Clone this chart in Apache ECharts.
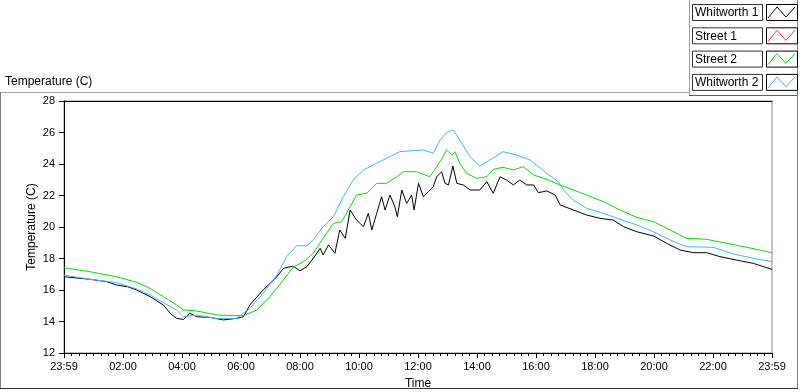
<!DOCTYPE html>
<html>
<head>
<meta charset="utf-8">
<script src="https://cdn.jsdelivr.net/npm/echarts@6/dist/echarts.min.js"></script>
<style>
  html, body { margin: 0; padding: 0; background: #fff; }
  #main { width: 800px; height: 392px; }
</style>
</head>
<body>
<div id="main"></div>
<script>
// minutes after 23:59 -> temperature (C)
var seriesNames = ["Whitworth 1", "Street 1", "Street 2", "Whitworth 2"];
var seriesColors = ["#000000", "#ff3030", "#00e000", "#40b8f8"];

var w1Times = [0,30,53,87,107,130,148,175,202,216,229,243,256,270,297,324,351,365,378,405,433,446,466,480,494,507,521,527,538,551,561,572,582,595,609,619,626,636,646,653,663,673,678,687,697,707,712,721,731,741,751,758,768,775,782,791,799,812,826,846,860,873,887,900,914,927,941,955,965,982,999,1009,1036,1063,1090,1117,1138,1165,1199,1226,1253,1280,1307,1334,1368,1402,1440];
var w1Temps = [16.84,16.75,16.68,16.53,16.32,16.2,16.00,15.58,15.05,14.52,14.20,14.13,14.52,14.30,14.26,14.10,14.20,14.30,15.05,16.00,16.84,17.37,17.52,17.22,17.48,18.01,18.65,18.22,18.86,18.33,19.81,19.28,21.08,20.44,20.02,20.87,19.81,20.87,21.92,21.08,22.03,21.29,20.65,22.35,21.50,22.03,21.08,22.77,21.92,22.24,22.56,23.19,23.51,22.77,22.67,23.87,22.77,22.67,22.35,22.35,22.88,22.14,23.19,22.98,22.67,22.98,22.67,22.67,22.18,22.29,22.03,21.40,21.08,20.76,20.55,20.44,20.02,19.70,19.43,18.96,18.54,18.37,18.37,18.12,17.90,17.69,17.31];

var s1Times = [];
var s1Temps = [];

var s2Times = [0,53,107,148,175,202,229,243,270,311,365,392,419,446,466,487,507,527,548,565,582,595,616,636,656,677,690,717,744,758,771,778,789,795,805,819,839,860,873,893,914,934,955,982,1009,1036,1063,1097,1131,1165,1199,1233,1266,1307,1348,1389,1440];
var s2Temps = [17.41,17.16,16.84,16.49,16.10,15.58,15.05,14.73,14.67,14.41,14.37,14.73,15.58,16.62,17.45,17.80,18.33,19.28,20.23,20.34,21.29,22.03,22.14,22.77,22.77,23.19,23.51,23.51,23.19,23.83,24.46,24.89,24.57,24.78,24.04,23.41,23.09,23.19,23.66,23.79,23.62,23.83,23.30,23.03,22.67,22.35,22.03,21.61,21.08,20.61,20.34,19.81,19.28,19.22,18.96,18.71,18.37];

var w2Times = [0,53,107,148,175,202,229,243,270,311,351,378,405,433,453,473,494,507,527,548,568,588,609,629,656,683,710,731,751,765,778,792,805,826,846,866,893,921,948,982,1005,1016,1036,1063,1097,1131,1165,1199,1233,1266,1321,1361,1402,1440];
var w2Temps = [16.95,16.68,16.47,16.06,15.68,15.19,14.73,14.30,14.41,14.18,14.20,14.83,15.79,16.95,18.12,18.81,18.81,19.17,20.02,20.65,21.92,22.98,23.62,23.94,24.36,24.78,24.85,24.89,24.68,25.52,25.99,26.16,25.52,24.46,23.87,24.25,24.78,24.57,24.25,23.41,22.88,22.35,21.71,21.19,20.87,20.49,20.13,19.70,19.17,18.75,18.71,18.29,18.01,17.80];

var allTimes = [w1Times, s1Times, s2Times, w2Times];
var allTemps = [w1Temps, s1Temps, s2Temps, w2Temps];

function pad(n) { return (n < 10 ? "0" : "") + n; }

var chart = echarts.init(document.getElementById("main"));
var font = "Liberation Sans";

var series = seriesNames.map(function (name, k) {
  return {
    name: name,
    type: "line",
    showSymbol: false,
    animation: false,
    lineStyle: { color: seriesColors[k], width: 1 },
    itemStyle: { color: seriesColors[k] },
    data: allTimes[k].map(function (t, i) { return [t, allTemps[k][i]]; })
  };
});

// legend boxes drawn LabVIEW style
var legendGraphics = [];
seriesNames.forEach(function (name, k) {
  var top = 4 + k * 23.3;
  legendGraphics.push({
    type: "rect", shape: { x: 692.5, y: top + 0.5, width: 70, height: 16 },
    style: { fill: "#fff", stroke: "#333", lineWidth: 1 }
  });
  legendGraphics.push({
    type: "text", x: 695, y: top + 9,
    style: { text: name, font: "12px " + font, fill: "#000", verticalAlign: "middle" }
  });
  legendGraphics.push({
    type: "rect", shape: { x: 766.5, y: top + 0.5, width: 31, height: 16 },
    style: { fill: "#fff", stroke: "#000", lineWidth: 1 }
  });
  legendGraphics.push({
    type: "polyline",
    shape: { points: [[768, top + 14], [777, top + 3], [786, top + 13], [795, top + 3]] },
    style: { stroke: seriesColors[k], lineWidth: 1, fill: null }
  });
});

var frame = [
  { type: "line", shape: { x1: 0, y1: 92.5, x2: 690, y2: 92.5 }, style: { stroke: "#a0a0a0", lineWidth: 1 } },
  { type: "line", shape: { x1: 689.5, y1: 0, x2: 689.5, y2: 95 }, style: { stroke: "#a0a0a0", lineWidth: 1 } },
  { type: "line", shape: { x1: 689, y1: 95.5, x2: 798, y2: 95.5 }, style: { stroke: "#606060", lineWidth: 1 } },
  { type: "line", shape: { x1: 0.5, y1: 92, x2: 0.5, y2: 388 }, style: { stroke: "#808080", lineWidth: 1 } },
  { type: "line", shape: { x1: 797.5, y1: 0, x2: 797.5, y2: 388 }, style: { stroke: "#808080", lineWidth: 1 } },
  { type: "line", shape: { x1: 0, y1: 388.5, x2: 798, y2: 388.5 }, style: { stroke: "#303030", lineWidth: 1 } },
  { type: "text", x: 5, y: 82,
    style: { text: "Temperature (C)", font: "12px " + font, fill: "#000", verticalAlign: "middle" } }
];

var option = {
  backgroundColor: "#fff",
  animation: false,
  grid: {
    left: 64, top: 101, right: 28, bottom: 39,
    outerBoundsMode: "none", containLabel: false,
    show: true, borderColor: "#8a8a8a", borderWidth: 1, backgroundColor: "#fff"
  },
  xAxis: [{
    type: "value",
    min: 0, max: 1440, interval: 120,
    name: "Time", nameLocation: "middle", nameGap: 25, nameMoveOverlap: false,
    nameTextStyle: { fontFamily: font, fontSize: 12, color: "#000" },
    axisLine: { show: true, lineStyle: { color: "#000" } },
    axisTick: { show: true, length: 5, lineStyle: { color: "#000" } },
    minorTick: { show: true, splitNumber: 8, length: 3, lineStyle: { color: "#000" } },
    splitLine: { show: false },
    axisLabel: {
      fontFamily: font, fontSize: 11, color: "#000", margin: 8,
      formatter: function (v) {
        if (v === 0 || v === 1440) return "23:59";
        return pad(Math.round(v / 60)) + ":00";
      }
    }
  }, {
    type: "value", position: "top", min: 0, max: 1440,
    axisLine: { show: true, lineStyle: { color: "#000" } },
    axisTick: { show: false }, axisLabel: { show: false }, splitLine: { show: false }
  }],
  yAxis: {
    type: "value",
    min: 12, max: 28, interval: 2,
    name: "Temperature (C)", nameLocation: "middle", nameGap: 26, nameRotate: 90, nameMoveOverlap: false,
    nameTextStyle: { fontFamily: font, fontSize: 12, color: "#000" },
    axisLine: { show: true, lineStyle: { color: "#000" } },
    axisTick: { show: true, length: 5, lineStyle: { color: "#000" } },
    splitLine: { show: false },
    axisLabel: { fontFamily: font, fontSize: 11, color: "#000", margin: 9 }
  },
  series: series,
  graphic: frame.concat(legendGraphics)
};

chart.setOption(option);
</script>
</body>
</html>
